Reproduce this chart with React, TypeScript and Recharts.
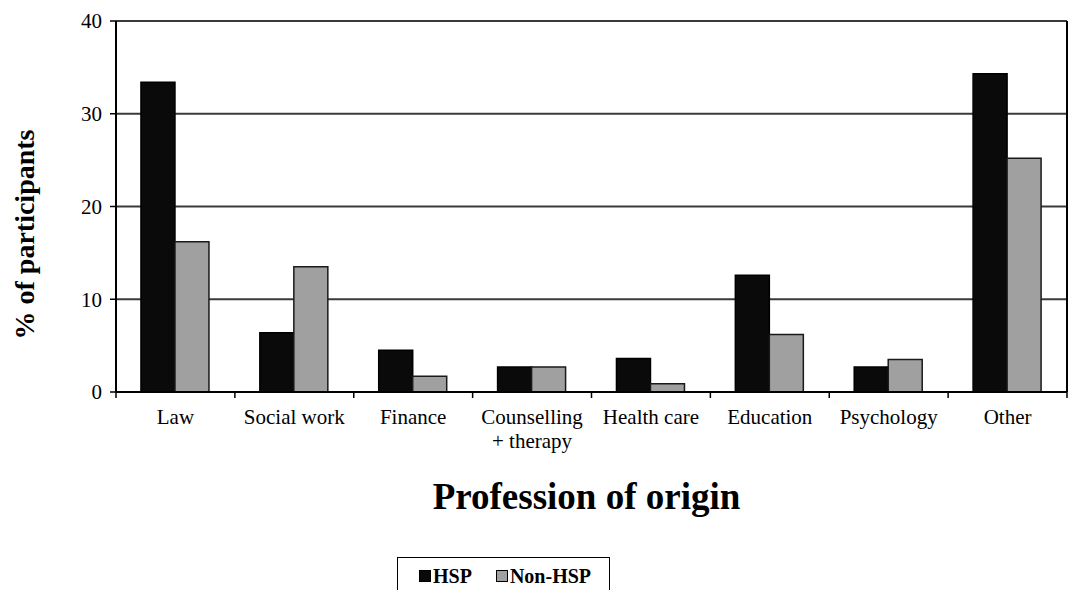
import React from "react";
import {
  BarChart,
  Bar,
  XAxis,
  YAxis,
  CartesianGrid,
  Legend,
  Label,
} from "recharts";

const categories = [
  "Law",
  "Social work",
  "Finance",
  "Counselling + therapy",
  "Health care",
  "Education",
  "Psychology",
  "Other",
];
const hspValues = [33.4, 6.4, 4.5, 2.7, 3.6, 12.6, 2.7, 34.3];
const nonHspValues = [16.2, 13.5, 1.7, 2.7, 0.9, 6.2, 3.5, 25.2];
const yTicks = [0, 10, 20, 30, 40];

const data = categories.map((name, i) => ({
  name,
  hsp: hspValues[i],
  nonHsp: nonHspValues[i],
}));

const FONT = '"Liberation Serif", "Times New Roman", serif';
const WIDTH = 1069;
const HEIGHT = 590;
const Y_AXIS_W = 116;
const RIGHT_AXIS_W = 2;
const BAND = (WIDTH - Y_AXIS_W - RIGHT_AXIS_W) / categories.length;

function CategoryTick(props: any) {
  const { x, y, payload, index } = props;
  const name: string = payload.value;
  const lines = name.includes(" + ")
    ? [name.split(" + ")[0], "+ " + name.split(" + ")[1]]
    : [name];
  return (
    <g>
      <line x1={x - BAND / 2} y1={y} x2={x - BAND / 2} y2={y + 6} stroke="#000" strokeWidth={1.5} />
      {index === categories.length - 1 && (
        <line x1={x + BAND / 2} y1={y} x2={x + BAND / 2} y2={y + 6} stroke="#000" strokeWidth={1.5} />
      )}
      <text
        x={x}
        y={y + 32}
        textAnchor="middle"
        fill="#000"
        fontSize={21}
        fontFamily={FONT}
      >
        {lines.map((l, i) => (
          <tspan key={i} x={x} dy={i === 0 ? 0 : 24}>
            {l}
          </tspan>
        ))}
      </text>
    </g>
  );
}

function LegendBox() {
  const item = (fill: string, label: string, gap: number) => (
    <span style={{ display: "inline-flex", alignItems: "center", marginRight: gap }}>
      <span
        style={{
          display: "inline-block",
          width: 10,
          height: 10,
          background: fill,
          border: "1.5px solid #000",
          marginRight: 2,
        }}
      />
      {label}
    </span>
  );
  return (
    <div
      style={{
        boxSizing: "border-box",
        width: "100%",
        height: "100%",
        border: "1.5px solid #000",
        background: "#fff",
        paddingLeft: 21,
        paddingTop: 6,
        fontFamily: FONT,
        fontWeight: "bold",
        fontSize: 20,
        color: "#000",
        whiteSpace: "nowrap",
      }}
    >
      {item("#0a0a0a", "HSP", 24)}
      {item("#a0a0a0", "Non-HSP", 0)}
    </div>
  );
}

export default function App() {
  return (
    <div style={{ position: "absolute", left: 0, top: 0, background: "#fff" }}>
      <BarChart
        width={WIDTH}
        height={HEIGHT}
        data={data}
        margin={{ top: 21, right: 0, left: 0, bottom: 68 }}
        barCategoryGap="21%"
        barGap={0}
      >
        <CartesianGrid
          vertical={false}
          stroke="#3a3a3a"
          strokeWidth={2}
          yAxisId="left"
        />
        <XAxis
          dataKey="name"
          height={130}
          interval={0}
          tickSize={0}
          tickMargin={0}
          tickLine={false}
          axisLine={{ stroke: "#000", strokeWidth: 2 }}
          tick={<CategoryTick />}
        >
          <Label
            content={({ viewBox }: any) => (
              <text
                x={viewBox.x + viewBox.width / 2 - 5}
                y={viewBox.y + 117}
                textAnchor="middle"
                fontFamily={FONT}
                fontWeight="bold"
                fontSize={37}
                fill="#000"
              >
                Profession of origin
              </text>
            )}
          />
        </XAxis>
        <YAxis
          yAxisId="left"
          width={Y_AXIS_W}
          domain={[0, 40]}
          ticks={yTicks}
          interval={0}
          tickSize={6}
          tickMargin={8}
          axisLine={{ stroke: "#000", strokeWidth: 2 }}
          tickLine={{ stroke: "#000", strokeWidth: 1.5 }}
          tick={{ fill: "#000", fontSize: 21, fontFamily: FONT }}
        >
          <Label
            content={({ viewBox }: any) => {
              const cx = 24;
              const cy = viewBox.y + viewBox.height / 2 + 28;
              return (
                <text
                  x={cx}
                  y={cy}
                  transform={`rotate(-90 ${cx} ${cy})`}
                  textAnchor="middle"
                  dominantBaseline="central"
                  fontFamily={FONT}
                  fontWeight="bold"
                  fontSize={28}
                  fill="#000"
                >
                  % of participants
                </text>
              );
            }}
          />
        </YAxis>
        <YAxis
          yAxisId="right"
          orientation="right"
          width={RIGHT_AXIS_W}
          domain={[0, 40]}
          tick={false}
          tickLine={false}
          axisLine={{ stroke: "#000", strokeWidth: 2 }}
        />
        <Legend
          verticalAlign="middle"
          align="center"
          layout="horizontal"
          content={<LegendBox />}
          wrapperStyle={{ left: 397, top: 557, width: 213, height: 40 }}
        />
        <Bar
          yAxisId="left"
          dataKey="hsp"
          name="HSP"
          fill="#0a0a0a"
          stroke="#000"
          strokeWidth={1.5}
          isAnimationActive={false}
        />
        <Bar
          yAxisId="left"
          dataKey="nonHsp"
          name="Non-HSP"
          fill="#a0a0a0"
          stroke="#1a1a1a"
          strokeWidth={1.5}
          isAnimationActive={false}
        />
      </BarChart>
    </div>
  );
}
